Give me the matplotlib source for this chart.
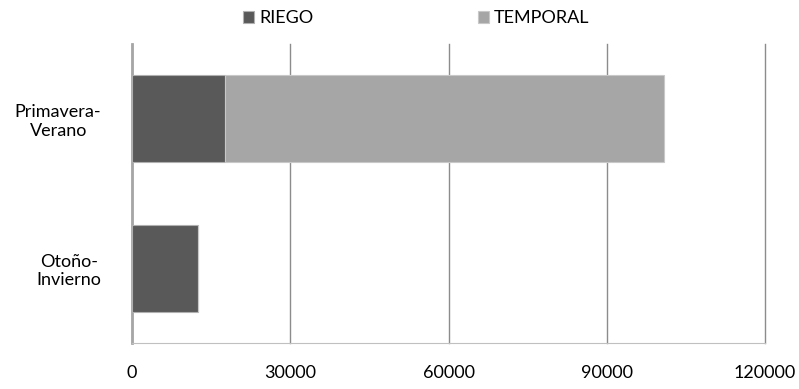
import numpy as np
import matplotlib.pyplot as plt

temporadas = ['Primavera-\nVerano', 'Otoño-\nInvierno']
riego = [17600, 12500]
temporal = [83200, 0]
xticks = [0, 30000, 60000, 90000, 120000]

plt.rcParams['font.family'] = ['Lato', 'DejaVu Sans']

fig = plt.figure(figsize=(7.99, 3.89), dpi=100)
ax = fig.add_axes([0.1652, 0.118, 0.7924, 0.769])

y = np.arange(len(temporadas))
ax.barh(y, riego, height=0.58, color='#595959', edgecolor='#b0b0b0',
        linewidth=0.8, label='RIEGO', zorder=3)
ax.barh(y, temporal, left=riego, height=0.58, color='#a6a6a6',
        edgecolor='#c8c8c8', linewidth=0.8, label='TEMPORAL', zorder=3)

ax.set_xlim(0, 120000)
ax.set_ylim(len(temporadas) - 0.5, -0.5)
ax.set_xticks(xticks)
ax.set_xticklabels([str(v) for v in xticks], fontsize=13)
ax.set_yticks(y)
ax.set_yticklabels(temporadas, fontsize=13, multialignment='center')
ax.tick_params(axis='x', length=0, pad=16)
ax.tick_params(axis='y', length=0, pad=22)

ax.grid(axis='x', color='#8c8c8c', linewidth=1, zorder=0)
for line in ax.get_xgridlines():
    line.set_clip_on(False)
for side in ['top', 'right']:
    ax.spines[side].set_visible(False)
ax.spines['left'].set_color('#a6a6a6')
ax.spines['left'].set_linewidth(2)
ax.spines['bottom'].set_color('#c0c0c0')
ax.spines['bottom'].set_linewidth(0.8)

fig.legend(loc='upper center', bbox_to_anchor=(0.521, 1.015), ncol=2,
           frameon=False, fontsize=13, handlelength=0.6, handleheight=0.6,
           handletextpad=0.3, columnspacing=9.1)

fig.savefig('out.png', dpi=100)
